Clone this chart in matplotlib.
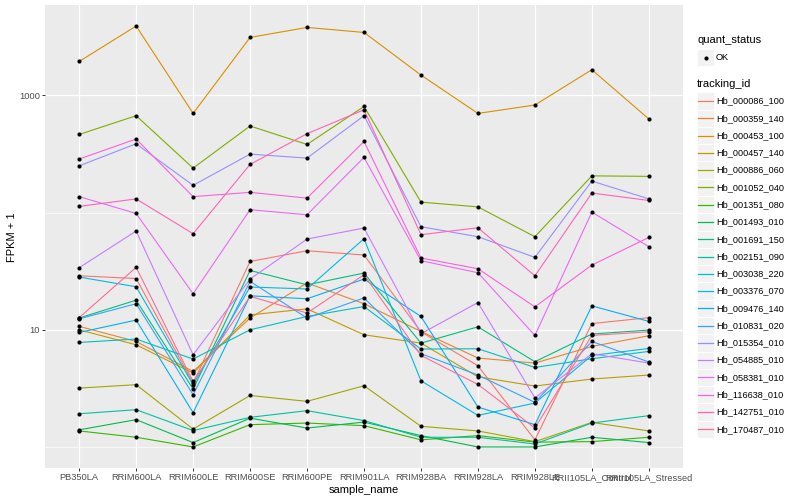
import matplotlib
matplotlib.use("Agg")
import matplotlib.pyplot as plt
import numpy as np
from matplotlib.patches import Rectangle
from matplotlib.lines import Line2D
from matplotlib.ticker import FixedLocator, NullFormatter, FixedFormatter

plt.rcParams['font.family'] = ['Liberation Sans', 'DejaVu Sans']

samples = ["PB350LA", "RRIM600LA", "RRIM600LE", "RRIM600SE", "RRIM600PE",
           "RRIM901LA", "RRIM928BA", "RRIM928LA", "RRIM928LE",
           "RRII105LA_Control", "RRII105LA_Stressed"]

tracking_ids = ["Hb_000086_100", "Hb_000359_140", "Hb_000453_100", "Hb_000457_140",
                "Hb_000886_060", "Hb_001052_040", "Hb_001351_080", "Hb_001493_010",
                "Hb_001691_150", "Hb_002151_090", "Hb_003038_220", "Hb_003376_070",
                "Hb_009476_140", "Hb_010831_020", "Hb_015354_010", "Hb_054885_010",
                "Hb_058381_010", "Hb_116638_010", "Hb_142751_010", "Hb_170487_010"]

colors = ["#F8766D", "#EA8331", "#D89000", "#C09B00", "#A3A500", "#7CAE00", "#39B600",
          "#00BB4E", "#00BF7D", "#00C1A3", "#00BFC4", "#00BAE0", "#00B0F6", "#35A2FF",
          "#9590FF", "#C77CFF", "#E76BF3", "#FA62DB", "#FF62BC", "#FF6C91"]

# FPKM + 1 per sample (same order as samples)
hb_000086_100 = [28.9, 27.4, 3.51, 38.3, 47.3, 43.5, 9.62, 4.93, 1.15, 11.3, 12.7]
hb_000359_140 = [10.7, 7.95, 4.41, 12.6, 25.1, 16.7, 9.68, 5.74, 5.20, 7.21, 8.90]
hb_000453_100 = [1952, 3915, 703, 3130, 3810, 3453, 1494, 703, 829, 1659, 630]
hb_000457_140 = [10.0, 7.45, 4.27, 13.4, 15.1, 9.07, 7.70, 3.97, 3.31, 3.80, 4.11]
hb_000886_060 = [3.18, 3.40, 1.42, 2.75, 2.45, 3.33, 1.50, 1.37, 1.11, 1.62, 1.37]
hb_001052_040 = [465, 672, 240, 549, 382, 806, 123, 112, 62.3, 206, 204]
hb_001351_080 = [1.37, 1.21, 1.00, 1.55, 1.60, 1.52, 1.15, 1.25, 1.10, 1.11, 1.21]
hb_001493_010 = [1.40, 1.71, 1.09, 1.76, 1.45, 1.63, 1.25, 1.00, 1.00, 1.21, 1.09]
hb_001691_150 = [12.6, 17.9, 3.12, 32.1, 24.2, 30.5, 7.70, 10.6, 5.34, 9.20, 9.95]
hb_002151_090 = [1.92, 2.08, 1.38, 1.79, 2.04, 1.68, 1.21, 1.21, 1.06, 1.60, 1.85]
hb_003038_220 = [7.80, 8.34, 5.63, 10.0, 13.0, 15.8, 6.85, 6.89, 4.77, 5.66, 6.54]
hb_003376_070 = [28.2, 23.3, 3.40, 23.2, 22.3, 59.9, 3.67, 1.86, 2.37, 6.04, 6.93]
hb_009476_140 = [9.49, 12.1, 1.96, 19.5, 18.4, 27.1, 13.0, 2.19, 1.55, 16.0, 11.8]
hb_010831_020 = [12.4, 16.7, 2.79, 25.9, 12.6, 18.7, 6.25, 4.11, 2.40, 7.95, 5.31]
hb_015354_010 = [251, 387, 171, 316, 292, 672, 75.8, 62.3, 41.5, 186, 131]
hb_054885_010 = [33.9, 69.7, 6.12, 27.1, 59.5, 73.9, 9.25, 17.1, 2.62, 6.25, 5.20]
hb_058381_010 = [137, 98.4, 20.3, 106, 95.9, 296, 38.9, 30.7, 8.95, 101, 51.2]
hb_116638_010 = [287, 425, 137, 149, 133, 405, 41.0, 33.2, 15.7, 35.7, 61.4]
hb_142751_010 = [113, 131, 66.1, 258, 472, 755, 64.8, 74.3, 28.9, 147, 127]
hb_170487_010 = [12.7, 34.1, 3.62, 19.3, 13.9, 29.5, 6.04, 3.42, 1.45, 8.95, 9.62]

series = [hb_000086_100, hb_000359_140, hb_000453_100, hb_000457_140, hb_000886_060,
          hb_001052_040, hb_001351_080, hb_001493_010, hb_001691_150, hb_002151_090,
          hb_003038_220, hb_003376_070, hb_009476_140, hb_010831_020, hb_015354_010,
          hb_054885_010, hb_058381_010, hb_116638_010, hb_142751_010, hb_170487_010]

y_major = [10, 1000]
y_minor = [1, 100]

W, H = 800, 500
fig = plt.figure(figsize=(W / 100, H / 100), dpi=100)

def fx(x):
    return x / W

def fy(y):
    return 1 - y / H

pl, pr, pt, pb = 45, 683, 5, 468
ax = fig.add_axes([fx(pl), fy(pb), fx(pr - pl), (pb - pt) / H])
ax.set_facecolor('#EBEBEB')
for s in ax.spines.values():
    s.set_visible(False)

x = np.arange(len(samples))
for vals, c in zip(series, colors):
    ax.plot(x, vals, color=c, lw=0.8, zorder=2)
for vals in series:
    ax.plot(x, vals, linestyle='none', marker='o', color='black', ms=3.0,
            markeredgewidth=0, zorder=3)

ax.set_yscale('log')
allv = np.log10(np.concatenate([np.asarray(v, float) for v in series]))
lo, hi = allv.min(), allv.max()
pad = 0.05 * (hi - lo)
ax.set_ylim(10 ** (lo - pad), 10 ** (hi + pad))
ax.set_xlim(-0.6, len(samples) - 0.4)

ax.yaxis.set_major_locator(FixedLocator(y_major))
ax.yaxis.set_major_formatter(FixedFormatter([str(v) for v in y_major]))
ax.yaxis.set_minor_locator(FixedLocator(y_minor))
ax.yaxis.set_minor_formatter(NullFormatter())
ax.set_xticks(x)
ax.set_xticklabels(samples)

ax.grid(True, which='major', color='white', lw=0.9, zorder=0)
ax.grid(True, which='minor', axis='y', color='white', lw=0.45, zorder=0)
ax.set_axisbelow(True)
ax.tick_params(axis='both', which='major', length=2, width=0.7, color='#333333',
               labelsize=6.7, labelcolor='#4D4D4D', pad=1.6)
ax.tick_params(axis='y', which='minor', length=0)

fig.text(fx(364), fy(490), "sample_name", ha='center', va='center', fontsize=8, color='black')
fig.text(fx(12), fy(237), "FPKM + 1", ha='center', va='center', rotation=90, fontsize=8,
         color='black')

# legend
kx, ks = 697, 17.28
fig.text(fx(697), fy(40), "quant_status", ha='left', va='center', fontsize=8)
fig.add_artist(Rectangle((fx(kx), fy(57.5 + ks / 2)), ks / W, ks / H, transform=fig.transFigure,
                         facecolor='#F2F2F2', edgecolor='white', lw=0.6))
fig.add_artist(Line2D([fx(kx + ks / 2)], [fy(57.5)], marker='o', color='black', ms=3.0,
                      markeredgewidth=0, linestyle='none', transform=fig.transFigure))
fig.text(fx(716), fy(57.5), "OK", ha='left', va='center', fontsize=6.6)

fig.text(fx(697), fy(84), "tracking_id", ha='left', va='center', fontsize=8)
for i, (name, c) in enumerate(zip(tracking_ids, colors)):
    cy = 101 + i * ks
    fig.add_artist(Rectangle((fx(kx), fy(cy + ks / 2)), ks / W, ks / H,
                             transform=fig.transFigure, facecolor='#F2F2F2',
                             edgecolor='white', lw=0.6))
    fig.add_artist(Line2D([fx(kx + 1), fx(kx + ks - 1)], [fy(cy), fy(cy)], color=c, lw=0.9,
                          transform=fig.transFigure))
    fig.text(fx(716), fy(cy), name, ha='left', va='center', fontsize=6.6)

fig.savefig("out.png", dpi=100)
